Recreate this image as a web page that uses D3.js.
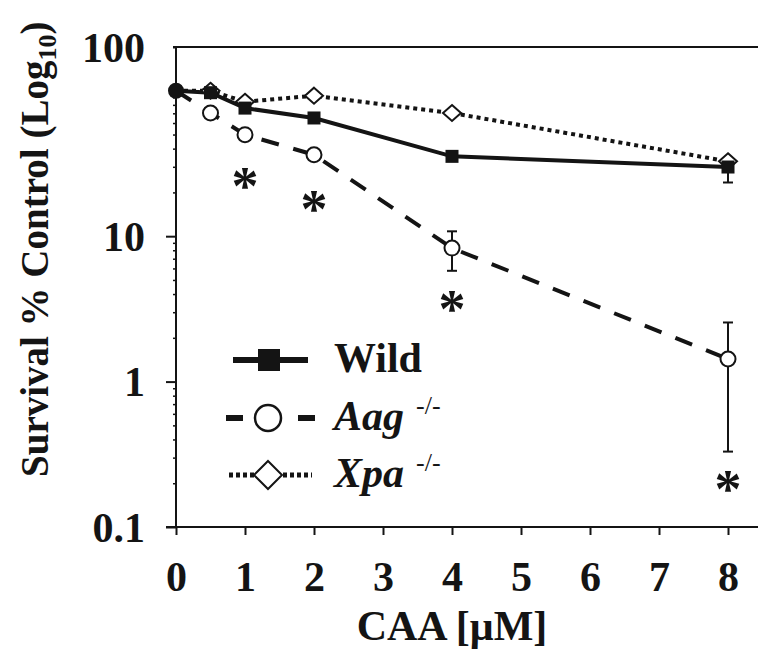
<!DOCTYPE html>
<html lang="en">
<head>
<meta charset="UTF-8">
<title>Survival vs CAA</title>
<style>
  body { margin: 0; background: #fff; }
  svg { display: block; font-family: "Liberation Serif", "Times New Roman", serif; }
</style>
<script src="https://d3js.org/d3.v7.min.js"></script>
</head>
<body>
<svg id="chart" width="758" height="653"></svg>
<script>
// doses in uM
const doses = [0, 0.5, 1, 2, 4, 8];
// survival as % of control, log axis
const wild = [100, 97, 76, 65, 35.4, 29.9];
const aag  = [100, 70.3, 49.9, 36.3, 8.28, 1.43];
const xpa  = [100, 100, 84, 92.5, 70.3, 32.7];
// error bars (null = none visible)
const wildErrLow  = [null, null, null, null, null, 23.4];
const wildErrHigh = [null, null, null, null, null, null];
const aagErrLow   = [null, null, null, null, 5.78, 0.33];
const aagErrHigh  = [null, null, null, null, 10.8, 2.55];
// shared control point at dose 0
const controlPoint = [0, 100];
// significance stars
const starDoses  = [1, 2, 4, 8];
const starValues = [25.6, 17.7, 3.64, 0.21];
// axes
const xTickValues = [0, 1, 2, 3, 4, 5, 6, 7, 8];
const yTickValues = [0.1, 1, 10, 200];
const yTickLabels = ["0.1", "1", "10", "100"];
const legendNames = ["Wild", "Aag", "Xpa"];
const legendSupers = ["", "-/-", "-/-"];

const ink = "#141414";
const svg = d3.select("#chart");

const x = d3.scaleLinear().domain([0, 8]).range([176, 728]);
const y = d3.scaleLog().domain([0.1, 200]).range([527, 47]);

// ---- axes ----
const minorTicks = [];
[0.1, 1, 10].forEach(dec => { for (let k = 2; k <= 9; k++) minorTicks.push(dec * k); });
minorTicks.push(100);

const yMinor = svg.append("g").attr("transform", `translate(${x(0)},0)`)
    .call(d3.axisLeft(y).tickValues(minorTicks).tickSize(3).tickFormat(""));
yMinor.select(".domain").remove();
yMinor.selectAll("line").attr("stroke", ink).attr("stroke-width", 1.5);

const yAxis = svg.append("g").attr("transform", `translate(${x(0)},0)`)
    .call(d3.axisLeft(y).tickValues(yTickValues).tickSize(10).tickPadding(21)
        .tickFormat((d, i) => yTickLabels[i]));
yAxis.select(".domain").remove();
yAxis.selectAll("line").attr("stroke", ink).attr("stroke-width", 2)
    .attr("x2", (d, i) => i === yTickValues.length - 1 ? -3 : -10);
yAxis.selectAll("text")
    .attr("dy", "0.34em")
    .attr("fill", ink)
    .style("font-size", "42px")
    .style("font-weight", "bold")
    .style("font-family", "'Liberation Serif', 'Times New Roman', serif");

const xAxis = svg.append("g").attr("transform", `translate(0,${y(0.1)})`)
    .call(d3.axisBottom(x).tickValues(xTickValues).tickSize(8).tickPadding(56));
xAxis.select(".domain").remove();
xAxis.selectAll("line").attr("stroke", ink).attr("stroke-width", 2);
xAxis.selectAll("text")
    .attr("dy", null)
    .attr("fill", ink)
    .style("font-size", "42px")
    .style("font-weight", "bold")
    .style("font-family", "'Liberation Serif', 'Times New Roman', serif");

// frame lines
svg.append("line").attr("x1", x(0)).attr("x2", x(0)).attr("y1", y(200)).attr("y2", y(0.1))
    .attr("stroke", ink).attr("stroke-width", 2);
svg.append("line").attr("x1", x(0) - 3).attr("x2", 758).attr("y1", y(200)).attr("y2", y(200))
    .attr("stroke", ink).attr("stroke-width", 2);
svg.append("line").attr("x1", x(0) - 10).attr("x2", 758).attr("y1", y(0.1)).attr("y2", y(0.1))
    .attr("stroke", ink).attr("stroke-width", 2);

// axis titles
svg.append("text")
    .attr("x", (x(0) + x(8)) / 2).attr("y", 640)
    .attr("text-anchor", "middle")
    .attr("fill", ink)
    .style("font-size", "42px").style("font-weight", "bold")
    .text("CAA [\u03bcM]");

const yTitle = svg.append("text")
    .attr("transform", "translate(48,477) rotate(-90)")
    .attr("fill", ink)
    .style("font-size", "39px").style("font-weight", "bold");
yTitle.append("tspan").text("Survival % Control (Log");
yTitle.append("tspan").attr("dy", 8).style("font-size", "26px").text("10");
yTitle.append("tspan").attr("dy", -8).text(")");

// ---- series lines ----
const line = d3.line().x(d => x(d[0])).y(d => y(d[1]));

svg.append("path").datum(d3.zip(doses, xpa)).attr("d", line)
    .attr("fill", "none").attr("stroke", ink).attr("stroke-width", 4)
    .attr("stroke-dasharray", "4,4");
svg.append("path").datum(d3.zip(doses, wild)).attr("d", line)
    .attr("fill", "none").attr("stroke", ink).attr("stroke-width", 4);
svg.append("path").datum(d3.zip(doses, aag)).attr("d", line)
    .attr("fill", "none").attr("stroke", ink).attr("stroke-width", 4)
    .attr("stroke-dasharray", "18,15");

// ---- error bars ----
function errorBars(values, lo, hi) {
  doses.forEach((d, i) => {
    [lo[i], hi[i]].forEach(v => {
      if (v == null) return;
      const cx = x(d);
      svg.append("line").attr("x1", cx).attr("x2", cx)
          .attr("y1", y(values[i])).attr("y2", y(v))
          .attr("stroke", ink).attr("stroke-width", 2);
      svg.append("line").attr("x1", cx - 5).attr("x2", cx + 5)
          .attr("y1", y(v)).attr("y2", y(v))
          .attr("stroke", ink).attr("stroke-width", 2);
    });
  });
}
errorBars(wild, wildErrLow, wildErrHigh);
errorBars(aag, aagErrLow, aagErrHigh);

// ---- markers ----
function diamond(g, cx, cy, w, h) {
  g.append("path")
      .attr("d", `M${cx},${cy - h}L${cx + w},${cy}L${cx},${cy + h}L${cx - w},${cy}Z`)
      .attr("fill", "#fff").attr("stroke", ink).attr("stroke-width", 2);
}
function openCircle(g, cx, cy, r, sw) {
  g.append("circle").attr("cx", cx).attr("cy", cy).attr("r", r)
      .attr("fill", "#fff").attr("stroke", ink).attr("stroke-width", sw || 2);
}
function square(g, cx, cy, s) {
  g.append("rect").attr("x", cx - s / 2).attr("y", cy - s / 2)
      .attr("width", s).attr("height", s).attr("fill", ink);
}

doses.forEach((d, i) => { if (i > 0) diamond(svg, x(d), y(xpa[i]), 9, 8); });
doses.forEach((d, i) => { if (i > 0) openCircle(svg, x(d), y(aag[i]), 7.5); });
doses.forEach((d, i) => { if (i > 0) square(svg, x(d), y(wild[i]), 13); });
svg.append("circle").attr("cx", x(controlPoint[0])).attr("cy", y(controlPoint[1]))
    .attr("r", 8).attr("fill", ink);

// ---- significance stars ----
svg.selectAll("text.star").data(d3.zip(starDoses, starValues)).enter()
    .append("text").attr("class", "star")
    .attr("x", d => x(d[0])).attr("y", d => y(d[1]) + 27)
    .attr("text-anchor", "middle")
    .attr("fill", ink)
    .style("font-size", "54px").style("font-weight", "bold")
    .text("*");

// ---- legend ----
const rowY = [360, 418, 475];
const lg = svg.append("g");
// Wild
lg.append("line").attr("x1", 233).attr("x2", 308).attr("y1", rowY[0]).attr("y2", rowY[0])
    .attr("stroke", ink).attr("stroke-width", 6);
square(lg, 269, rowY[0], 22);
// Aag
[[226, 243], [298, 315]].forEach(s => lg.append("line")
    .attr("x1", s[0]).attr("x2", s[1]).attr("y1", rowY[1]).attr("y2", rowY[1])
    .attr("stroke", ink).attr("stroke-width", 6));
openCircle(lg, 268, rowY[1], 13, 2.5);
// Xpa
[[229, 254], [283, 312]].forEach(s => lg.append("line")
    .attr("x1", s[0]).attr("x2", s[1]).attr("y1", rowY[2]).attr("y2", rowY[2])
    .attr("stroke", ink).attr("stroke-width", 5).attr("stroke-dasharray", "4,3"));
diamond(lg, 268, rowY[2], 14, 14);

legendNames.forEach((name, i) => {
  const t = lg.append("text").attr("x", 334).attr("y", rowY[i] + 12)
      .attr("fill", ink)
      .style("font-size", "42px").style("font-weight", "bold")
      .style("font-style", i === 0 ? "normal" : "italic");
  t.append("tspan").text(name);
  if (legendSupers[i]) {
    t.append("tspan").attr("dx", 12).attr("dy", -16)
        .style("font-size", "26px").style("font-weight", "normal").style("font-style", "normal")
        .text(legendSupers[i]);
  }
});
</script>
</body>
</html>
